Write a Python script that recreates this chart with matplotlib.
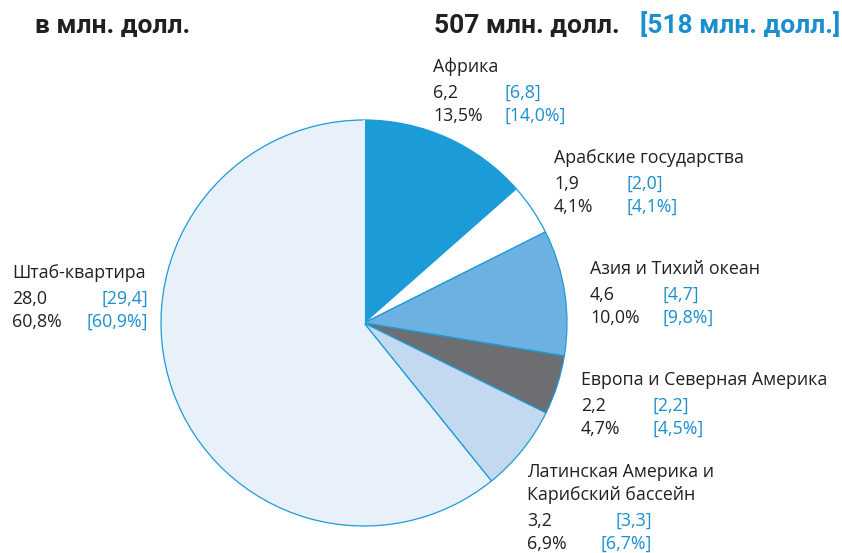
import matplotlib
matplotlib.use("Agg")
import matplotlib.pyplot as plt

# data
regions = ["Африка", "Арабские государства", "Азия и Тихий океан",
           "Европа и Северная Америка", "Латинская Америка и\nКарибский бассейн",
           "Штаб-квартира"]
values = ["6,2", "1,9", "4,6", "2,2", "3,2", "28,0"]
shares = [13.5, 4.1, 10.0, 4.7, 6.9, 60.8]
prev_values = ["[6,8]", "[2,0]", "[4,7]", "[2,2]", "[3,3]", "[29,4]"]
prev_shares = ["[14,0%]", "[4,1%]", "[9,8%]", "[4,5%]", "[6,7%]", "[60,9%]"]
total = "507 млн. долл."
prev_total = "[518 млн. долл.]"

colors = ["#1b9bd7", "#ffffff", "#6cb1e1", "#6d6e71", "#c2d9ef", "#e8f1fa"]
edge = "#1b9bd7"
dark = "#231f20"
blue = "#1a8fd0"

W, H = 842, 553
fig = plt.figure(figsize=(W / 100, H / 100), dpi=100)

# pie centre / radius in pixels
cx, cy, r = 364, 323, 203
ax = fig.add_axes([(cx - r) / W, (H - cy - r) / H, 2 * r / W, 2 * r / H])
ax.pie(shares, colors=colors, startangle=90, counterclock=False,
       wedgeprops=dict(edgecolor=edge, linewidth=0.9))
ax.set_aspect("equal")
ax.set_xlim(-1, 1)
ax.set_ylim(-1, 1)
ax.axis("off")
ax.plot([0, 0], [0, 1], color="white", lw=1.2)

body = ["Open Sans", "DejaVu Sans"]
head = ["Roboto", "DejaVu Sans"]
fs = 12.8
hs = 19


def put(x, y, s, color=dark, ha="left", size=fs, weight="normal", family=body):
    fig.text(x / W, 1 - y / H, s, color=color, ha=ha, va="center",
             fontsize=size, fontweight=weight, family=family)


put(35, 26, "в млн. долл.", size=hs, weight="bold", family=head)
put(620, 26, total, ha="right", size=hs, weight="bold", family=head)
put(840, 26, prev_total, color=blue, ha="right", size=hs, weight="bold", family=head)

# label layout: (x name, y name, blue x, blue align)
layout = [(433, 67, 505, "left"),
          (554, 158, 626, "left"),
          (590, 269, 662, "left"),
          (581, 380, 653, "left"),
          (527, 472, 652, "right"),
          (12, 273, 148, "right")]
step = 23
for i, (x, y, bx, bha) in enumerate(layout):
    lines = regions[i].split("\n")
    for k, ln in enumerate(lines):
        put(x, y + k * step, ln)
    y0 = y + len(lines) * step + 3
    put(x, y0, values[i])
    put(x, y0 + step, f"{shares[i]:.1f}%".replace(".", ","))
    put(bx, y0, prev_values[i], color=blue, ha=bha)
    put(bx, y0 + step, prev_shares[i], color=blue, ha=bha)

fig.savefig("out.png", dpi=100)
